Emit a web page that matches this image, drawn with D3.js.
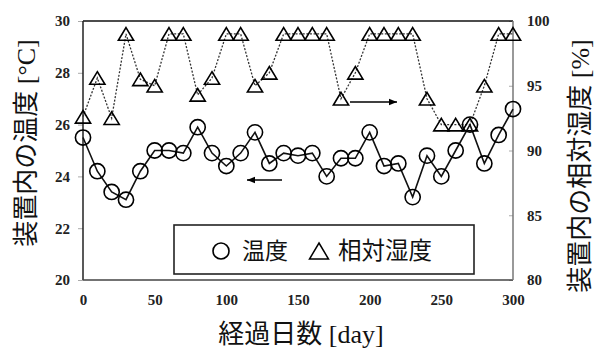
<!DOCTYPE html>
<html><head><meta charset="utf-8">
<script src="https://cdn.jsdelivr.net/npm/d3@7"></script>
<style>body{margin:0;background:#fff}svg{display:block}</style>
</head><body>
<svg id="c" width="595" height="350"></svg>
<script>
const days = [0,10,20,30,40,50,60,70,80,90,100,110,120,130,140,150,160,170,180,190,200,210,220,230,240,250,260,270,280,290,300];
const temperature = [25.5,24.2,23.4,23.1,24.2,25.0,25.0,24.9,25.9,24.9,24.4,24.9,25.7,24.5,24.9,24.8,24.9,24.0,24.7,24.7,25.7,24.4,24.5,23.2,24.8,24.0,25.0,26.0,24.5,25.6,26.6];
const humidity = [92.6,95.6,92.5,99.0,95.5,95.0,99.0,99.0,94.3,95.6,99.0,99.0,95.0,96.0,99.0,99.0,99.0,99.0,94.0,96.0,99.0,99.0,99.0,99.0,94.0,92.0,92.0,92.0,95.0,99.0,99.0];
const xTicks = [0,50,100,150,200,250,300];
const tempTicks = [20,22,24,26,28,30];
const humTicks = [80,85,90,95,100];
const xTitle = "経過日数 [day]";
const yLeftTitle = "装置内の温度 [°C]";
const yRightTitle = "装置内の相対湿度 [%]";
const legendLabels = ["温度","相対湿度"];

const svg = d3.select("#c");
const L=83,R=513,T=21,B=280;
const x = d3.scaleLinear().domain([0,300]).range([L,R]);
const yT = d3.scaleLinear().domain([20,30]).range([B,T]);
const yH = d3.scaleLinear().domain([80,100]).range([B,T]);
const cjk = "'Noto Sans CJK JP','Noto Sans',sans-serif";
const serif = "'Liberation Serif','Times New Roman',serif";

// axes
const axL = svg.append("g").attr("transform",`translate(${L},0)`).call(d3.axisLeft(yT).tickValues(tempTicks).tickSize(5).tickPadding(8).tickFormat(d3.format("d")));
const axR = svg.append("g").attr("transform",`translate(${R},0)`).call(d3.axisRight(yH).tickValues(humTicks).tickSize(-4).tickPadding(14).tickFormat(d3.format("d")));
const axB = svg.append("g").attr("transform",`translate(0,${B})`).call(d3.axisBottom(x).tickValues(xTicks).tickSize(0).tickPadding(14).tickFormat(d3.format("d")));
[axL,axR,axB].forEach(a=>{
  a.select(".domain").remove();
  a.selectAll(".tick line").attr("stroke","#aaa");
  a.selectAll("text").attr("font-family",serif).attr("font-weight","bold").attr("font-size",15).attr("fill","#222");
});
axB.selectAll(".tick line").remove();

// frame
svg.append("line").attr("x1",L).attr("x2",R).attr("y1",T).attr("y2",T).attr("stroke","#111").attr("stroke-width",1.5);
svg.append("line").attr("x1",L).attr("x2",L).attr("y1",T).attr("y2",B).attr("stroke","#222").attr("stroke-width",1.5);
svg.append("line").attr("x1",L).attr("x2",R).attr("y1",B).attr("y2",B).attr("stroke","#444").attr("stroke-width",1.5);
svg.append("line").attr("x1",R).attr("x2",R).attr("y1",T).attr("y2",B).attr("stroke","#777").attr("stroke-width",1.5);

// humidity
const triPath = "M0,-6.3L7.6,6.3L-7.6,6.3Z";
svg.append("path").datum(days.map((d,i)=>[d,humidity[i]]))
  .attr("fill","none").attr("stroke","#333").attr("stroke-width",1.3).attr("stroke-dasharray","2,1.6")
  .attr("d",d3.line().x(d=>x(d[0])).y(d=>yH(d[1])));
svg.append("g").selectAll("path").data(days.map((d,i)=>[d,humidity[i]])).join("path")
  .attr("transform",d=>`translate(${x(d[0])},${yH(d[1])})`)
  .attr("d",triPath).attr("fill","none").attr("stroke","#000").attr("stroke-width",1.6).attr("stroke-linejoin","miter");

// temperature
svg.append("path").datum(days.map((d,i)=>[d,temperature[i]]))
  .attr("fill","none").attr("stroke","#111").attr("stroke-width",1.6)
  .attr("d",d3.line().x(d=>x(d[0])).y(d=>yT(d[1])));
svg.append("g").selectAll("circle").data(days.map((d,i)=>[d,temperature[i]])).join("circle")
  .attr("cx",d=>x(d[0])).attr("cy",d=>yT(d[1])).attr("r",7.6)
  .attr("fill","none").attr("stroke","#000").attr("stroke-width",1.6);

// arrows
function arrow(x1,x2,y){
  svg.append("line").attr("x1",x1).attr("x2",x2).attr("y1",y).attr("y2",y).attr("stroke","#000").attr("stroke-width",1.5);
  const dir = Math.sign(x2-x1);
  svg.append("path").attr("d",`M${x2},${y}L${x2-dir*8},${y-3.2}L${x2-dir*8},${y+3.2}Z`).attr("fill","#000");
}
arrow(282,247,180);
arrow(350,397,102);

// legend
svg.append("rect").attr("x",174).attr("y",225).attr("width",300).attr("height",49).attr("fill","#fff").attr("stroke","#222").attr("stroke-width",1.6);
svg.append("circle").attr("cx",221).attr("cy",251).attr("r",8).attr("fill","none").attr("stroke","#000").attr("stroke-width",1.6);
svg.append("text").attr("x",242).attr("y",259).text(legendLabels[0]).attr("font-family",cjk).attr("font-size",23).attr("fill","#111");
svg.append("path").attr("transform","translate(319,251)").attr("d","M0,-8L9.5,8L-9.5,8Z").attr("fill","none").attr("stroke","#000").attr("stroke-width",1.5);
svg.append("text").attr("x",338).attr("y",259).text(legendLabels[1]).attr("font-family",cjk).attr("font-size",23.5).attr("fill","#111");

// titles
function title(txt,tx,ty,rot,size){
  const t = svg.append("text").attr("transform",`translate(${tx},${ty}) rotate(${rot})`)
    .attr("text-anchor","middle").attr("font-size",size).attr("fill","#111");
  const m = txt.match(/^(.*?)( \[.*\])$/);
  t.append("tspan").attr("font-family",cjk).text(m[1]);
  t.append("tspan").attr("font-family",serif).text(m[2]);
}
title(xTitle,301,343,0,26);
title(yLeftTitle,35,143,-90,26);
title(yRightTitle,589,166,-90,26);
</script>
</body></html>
